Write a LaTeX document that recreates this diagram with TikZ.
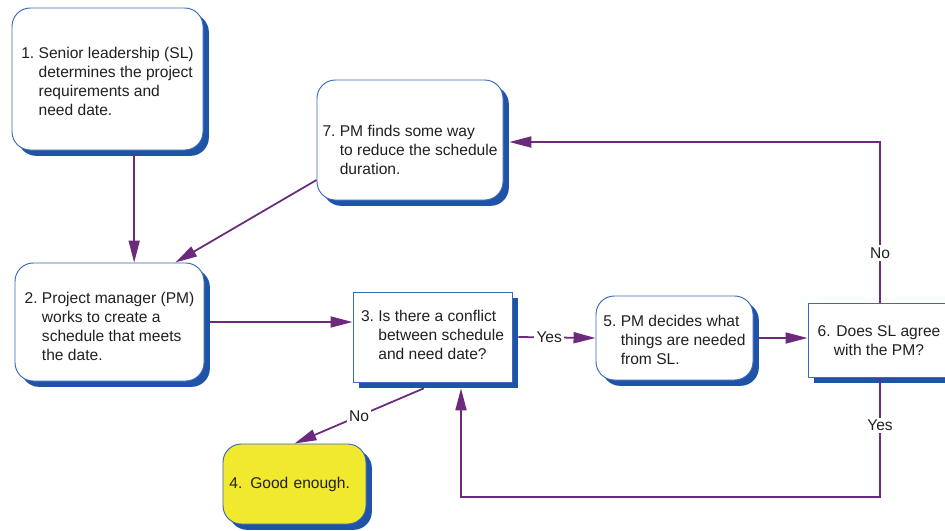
\documentclass[tikz,border=0pt]{standalone}
\usepackage{fontspec}
\setmainfont{Liberation Sans}
\usetikzlibrary{arrows.meta, positioning, shadows, calc}
\definecolor{flowpurple}{HTML}{6B2A7B}
\definecolor{boxblue}{HTML}{3A69BE}
\definecolor{shadeblue}{HTML}{1F53A6}
\definecolor{goodyellow}{HTML}{F1E92D}
\definecolor{textgray}{HTML}{231F20}
% numbered step text with hanging indent; optional arg moves the text down
\newcommand{\stepitem}[3][0pt]{\begin{tabular}{@{}l@{\ }l@{}}\rule{0pt}{\dimexpr 11.34pt+#1*2\relax}#2&\begin{tabular}[t]{@{}l@{}}#3\end{tabular}\end{tabular}}

\tikzset{
    stepbox/.style={draw=boxblue, line width=0.8pt, fill=white, rounded corners=0.55cm, text=textgray,
        drop shadow={shadow xshift=5pt, shadow yshift=-5pt, fill=shadeblue, opacity=1},
        font=\fontsize{13.3}{16.2}\selectfont},
    askbox/.style={stepbox, sharp corners},
    flow/.style={-{Triangle[length=0.66cm, width=0.33cm]}, line width=1.5pt, flowpurple},
    answer/.style={fill=white, inner sep=2pt, text=textgray, font=\fontsize{13.3}{16.2}\selectfont}
}

\begin{document}
\begin{tikzpicture}[x=0.03cm, y=-0.03cm]
    \useasboundingbox (0,0) rectangle (945,531);
    \clip (0,0) rectangle (945,531);

    % Steps
    \node[stepbox, minimum width=5.73cm, minimum height=4.26cm] (lead) at (107.5,79)
        {\stepitem[3.4pt]{1.}{Senior leadership (SL)\\determines the project\\requirements and\\need date.}};
    \node[stepbox, minimum width=5.58cm, minimum height=3.6cm] (reduce) at (410,140)
        {\stepitem[10pt]{7.}{PM finds some way\\to reduce the schedule\\duration.}};
    \node[stepbox, minimum width=5.67cm, minimum height=3.54cm] (plan) at (109.5,322)
        {\stepitem[5pt]{2.}{Project manager (PM)\\works to create a\\schedule that meets\\the date.}};
    \node[askbox, minimum width=4.77cm, minimum height=2.7cm] (conflict) at (432.5,337)
        {\stepitem{3.}{Is there a conflict\\between schedule\\and need date?}};
    \node[stepbox, minimum width=4.71cm, minimum height=2.52cm] (needs) at (674.5,338)
        {\stepitem[3.4pt]{5.}{PM decides what\\things are needed\\from SL.}};
    \node[askbox, minimum width=4.26cm, minimum height=2.22cm, align=center] (agree) at (879,340.5)
        {6. Does SL agree\\with the PM?};
    \node[stepbox, fill=goodyellow, minimum width=4.29cm, minimum height=2.4cm,
        text width=3.9cm, align=left] (good) at (294.5,484)
        {4. Good enough.};

    % Turning points
    \coordinate (leadout) at ([xshift=0.8cm, yshift=-5pt]lead.south);
    \coordinate (conflictin) at ([yshift=-5pt]conflict.south);
    \coordinate (noturn) at (880,142);
    \coordinate (yesturn) at (880,497);
    \coordinate (backturn) at (461,497);

    % Connectors
    \draw[flow] (leadout) -- (leadout |- plan.north);
    \draw[flow] ([yshift=-1.2cm]reduce.west) -- ([xshift=1.97cm]plan.north);
    \draw[flow] ([xshift=5pt]plan.east) -- (conflict.west |- plan.east);
    \draw[flow] ([xshift=5pt]conflict.east) -- node[answer, pos=0.4] {Yes} (needs.west);
    \draw[flow] ([xshift=5pt]needs.east) -- (agree.west |- needs.east);
    \draw[flow] (agree.north -| noturn) -- node[answer, pos=0.31] {No} (noturn) -- ([xshift=5pt]reduce.east |- noturn);
    \draw[flow] (agree.south -| yesturn) -- node[answer, pos=0.4] {Yes} (yesturn) -- (backturn) -- (backturn |- conflictin);
    \draw[flow] ([xshift=-0.26cm]conflictin) -- node[answer] {No} (good.north);
\end{tikzpicture}
\end{document}
